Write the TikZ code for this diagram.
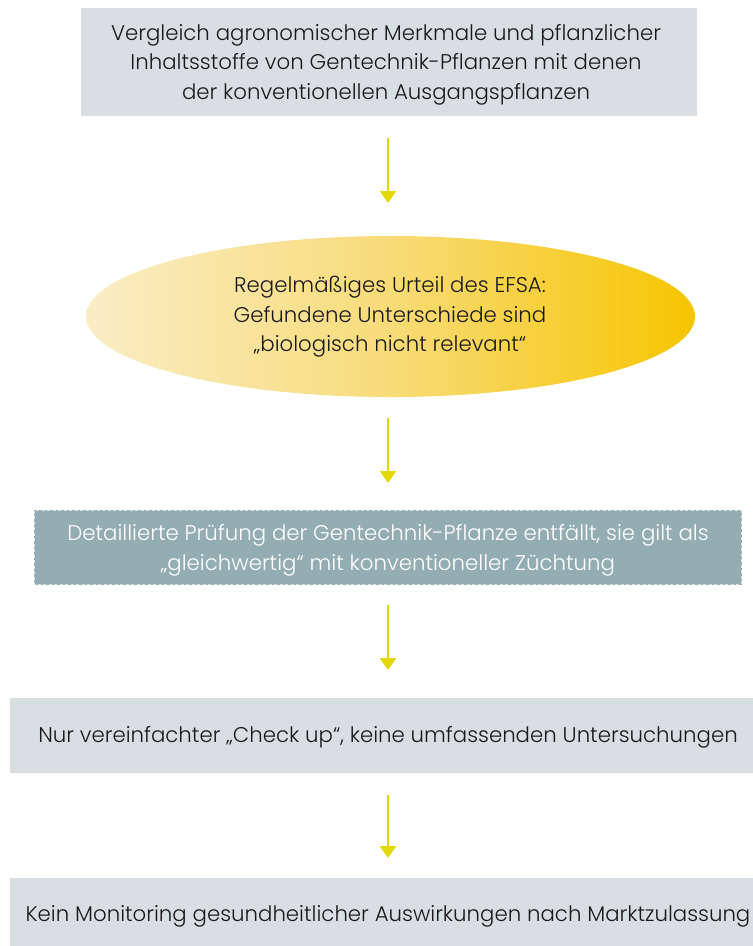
\documentclass[tikz,border=0pt]{standalone}
\usepackage{fontspec}
\setmainfont{Poppins Light}
\usetikzlibrary{shapes.geometric,arrows.meta}
\definecolor{boxgray}{HTML}{D8DFE2}
\definecolor{dashfill}{HTML}{93ADB3}
\definecolor{dashline}{HTML}{D9E3E5}
\definecolor{arrowyel}{HTML}{E3D800}
\definecolor{ellL}{HTML}{FAEDC6}
\definecolor{ellM}{HTML}{F8DB78}
\definecolor{ellR}{HTML}{F6C500}
\definecolor{txt}{HTML}{1A1A1A}
\tikzset{
  x=1pt, y=-1pt,
  lbl/.style={font=\fontsize{21.3}{29.5}\selectfont, text=txt, align=center},
  graybox/.style={fill=boxgray, draw=none},
  flowarrow/.style={draw=arrowyel, line width=2.6pt, -{Triangle[length=12pt,width=16pt]}, shorten >=0pt}
}
\begin{document}
\begin{tikzpicture}
\useasboundingbox (0,0) rectangle (753,946);
% box 1
\fill[graybox] (81,8) rectangle (697,116);
\node[lbl] (n1) at (386,64.5) {Vergleich agronomischer Merkmale und pflanzlicher\\Inhaltsstoffe von Gentechnik-Pflanzen mit denen\\der konventionellen Ausgangspflanzen};
\coordinate (n1b) at (388,138);
% ellipse
\node[ellipse, minimum width=609pt, minimum height=161pt, left color=ellL, right color=ellR, middle color=ellM, draw=none, inner sep=0pt] (n2) at (390.5,316.5) {};
\node[lbl] at (390,317) {Regelmäßiges Urteil des EFSA:\\Gefundene Unterschiede sind\\„biologisch nicht relevant“};
\coordinate (n2t) at (388,203);
\coordinate (n2b) at (388,418);
% dashed box
\fill[fill=dashfill] (34,510) rectangle (742,585);
\draw[draw=dashline, dash pattern=on 3pt off 2.5pt, line width=1.3pt] (34.6,510.6) rectangle (741.4,584.4);
\node[lbl, text=white] (n3) at (388,550.5) {Detaillierte Prüfung der Gentechnik-Pflanze entfällt, sie gilt als\\„gleichwertig“ mit konventioneller Züchtung};
\coordinate (n3t) at (388,483);
\coordinate (n3b) at (388,605);
% box 4
\fill[graybox] (10,698) rectangle (753,773);
\node[lbl] (n4) at (388,737) {Nur vereinfachter „Check up“, keine umfassenden Untersuchungen};
\coordinate (n4t) at (388,670);
\coordinate (n4b) at (388,795);
% box 5
\fill[graybox] (10,878) rectangle (753,946);
\node[lbl] (n5) at (388,916) {Kein Monitoring gesundheitlicher Auswirkungen nach Marktzulassung};
\coordinate (n5t) at (388,858);
% arrows
\draw[flowarrow] (n1b) -- (n2t);
\draw[flowarrow] (n2b) -- (n3t);
\draw[flowarrow] (n3b) -- (n4t);
\draw[flowarrow] (n4b) -- (n5t);
\end{tikzpicture}
\end{document}
